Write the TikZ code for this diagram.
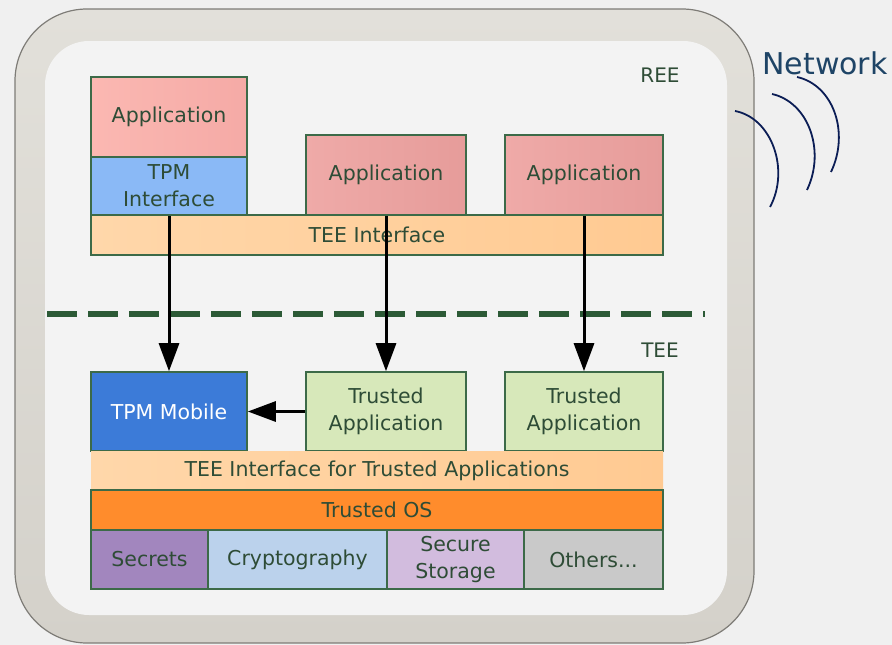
\documentclass[tikz,border=0pt]{standalone}
\usepackage{fontspec}
\setmainfont{DejaVu Sans}
\newfontfamily\lblfont{DejaVu Sans}
\usetikzlibrary{arrows.meta}

\definecolor{bgcol}{HTML}{F0F0F0}
\definecolor{innercol}{HTML}{F3F3F3}
\definecolor{frametop}{HTML}{E2E0DA}
\definecolor{framebot}{HTML}{D4D1CA}
\definecolor{frameedge}{HTML}{7E7C77}
\definecolor{boxline}{HTML}{3C6A48}
\definecolor{txt}{HTML}{2E4C36}
\definecolor{pinkA}{HTML}{FBB8B2}
\definecolor{pinkB}{HTML}{F5AAA6}
\definecolor{pinkC}{HTML}{EFAAA8}
\definecolor{pinkD}{HTML}{E69C9A}
\definecolor{tpmblue}{HTML}{8AB9F6}
\definecolor{mobblue}{HTML}{3C7BD8}
\definecolor{taGreen}{HTML}{D7E8BA}
\definecolor{ifA}{HTML}{FFD7AA}
\definecolor{ifB}{HTML}{FFCA92}
\definecolor{osOrange}{HTML}{FF8C2C}
\definecolor{secPurple}{HTML}{A286BE}
\definecolor{cryBlue}{HTML}{BBD2EC}
\definecolor{stoLav}{HTML}{D2BCDE}
\definecolor{othGray}{HTML}{C9C9C9}
\definecolor{dashGreen}{HTML}{2C5A36}
\definecolor{netText}{HTML}{1E4466}
\definecolor{netArc}{HTML}{0B1D55}

\tikzset{
  box/.style={draw=boxline, line width=1.6pt, inner sep=0pt, align=center,
    text=txt, font=\lblfont\fontsize{20.5}{27}\selectfont},
  band/.style={inner sep=0pt, align=center, text=txt,
    font=\lblfont\fontsize{20.5}{27}\selectfont},
  arr/.style={line width=3pt, -{Triangle[length=28pt,width=20pt]}},
  zonelabel/.style={text=txt, font=\lblfont\fontsize{20}{24}\selectfont},
  wave/.style={draw=netArc, line width=1.8pt}
}

\begin{document}
\begin{tikzpicture}[x=1pt,y=-1pt]
  % canvas
  \fill[bgcol] (0,0) rectangle (892,645);
  \useasboundingbox (0,0) rectangle (892,645);

  % device frame
  \shade[top color=frametop, bottom color=framebot, draw=frameedge, line width=1.2pt,
    rounded corners=72pt] (15,9) rectangle (754,643);
  \fill[innercol, rounded corners=44pt] (45,41) rectangle (727,615);

  % REE / TEE separator
  \draw[dashGreen, line width=5.5pt, dash pattern=on 30pt off 11pt] (47,314) -- (705,314);

  \node[zonelabel] (ree) at (660,75) {REE};
  \node[zonelabel] (tee) at (660,350) {TEE};

  % REE side
  \node[box, minimum width=572pt, minimum height=40pt, left color=ifA, right color=ifB]
    (teeif) at (377,235) {TEE Interface};
  \node[box, minimum width=156pt, minimum height=80pt, left color=pinkA, right color=pinkB]
    (app1) at (169,117) {Application};
  \node[box, minimum width=156pt, minimum height=58pt, fill=tpmblue]
    (tpmif) at (169,186) {TPM\\Interface};
  \node[box, minimum width=160pt, minimum height=80pt, left color=pinkC, right color=pinkD]
    (app2) at (386,175) {Application};
  \node[box, minimum width=158pt, minimum height=80pt, left color=pinkC, right color=pinkD]
    (app3) at (584,175) {Application};

  % TEE side
  \node[box, minimum width=156pt, minimum height=79pt, fill=mobblue, text=white]
    (tpmm) at (169,411.5) {TPM Mobile};
  \node[box, minimum width=160pt, minimum height=79pt, fill=taGreen]
    (ta1) at (386,411.5) {Trusted\\Application};
  \node[box, minimum width=158pt, minimum height=79pt, fill=taGreen]
    (ta2) at (584,411.5) {Trusted\\Application};
  \node[band, minimum width=572pt, minimum height=39pt, left color=ifA, right color=ifB]
    (teeta) at (377,470.5) {TEE Interface for Trusted Applications};
  \node[box, minimum width=572pt, minimum height=40pt, fill=osOrange]
    (tos) at (377,510) {Trusted OS};
  \node[box, minimum width=117pt, minimum height=59pt, fill=secPurple]
    (sec) at (149.5,559.5) {Secrets};
  \node[box, minimum width=179pt, minimum height=59pt, fill=cryBlue]
    (cry) at (297.5,559.5) {Cryptography};
  \node[box, minimum width=137pt, minimum height=59pt, fill=stoLav]
    (sto) at (455.5,559.5) {Secure\\Storage};
  \node[box, minimum width=139pt, minimum height=59pt, fill=othGray]
    (oth) at (593.5,559.5) {Others...};

  % calls across the boundary
  \draw[arr] (tpmif.south) -- (tpmm.north);
  \draw[arr] (app2.south) -- (ta1.north);
  \draw[arr] (app3.south) -- (ta2.north);
  \draw[arr] (ta1.west) -- (tpmm.east);

  % network
  \node[text=netText, font=\lblfont\fontsize{30}{34}\selectfont] (net) at (825,63) {Network};
  \draw[wave] (735,111) .. controls (772,118) and (790,170) .. (770,207);
  \draw[wave] (772,94) .. controls (808,102) and (826,150) .. (807,190);
  \draw[wave] (797,77) .. controls (833,85) and (850,132) .. (831,172);
\end{tikzpicture}
\end{document}
